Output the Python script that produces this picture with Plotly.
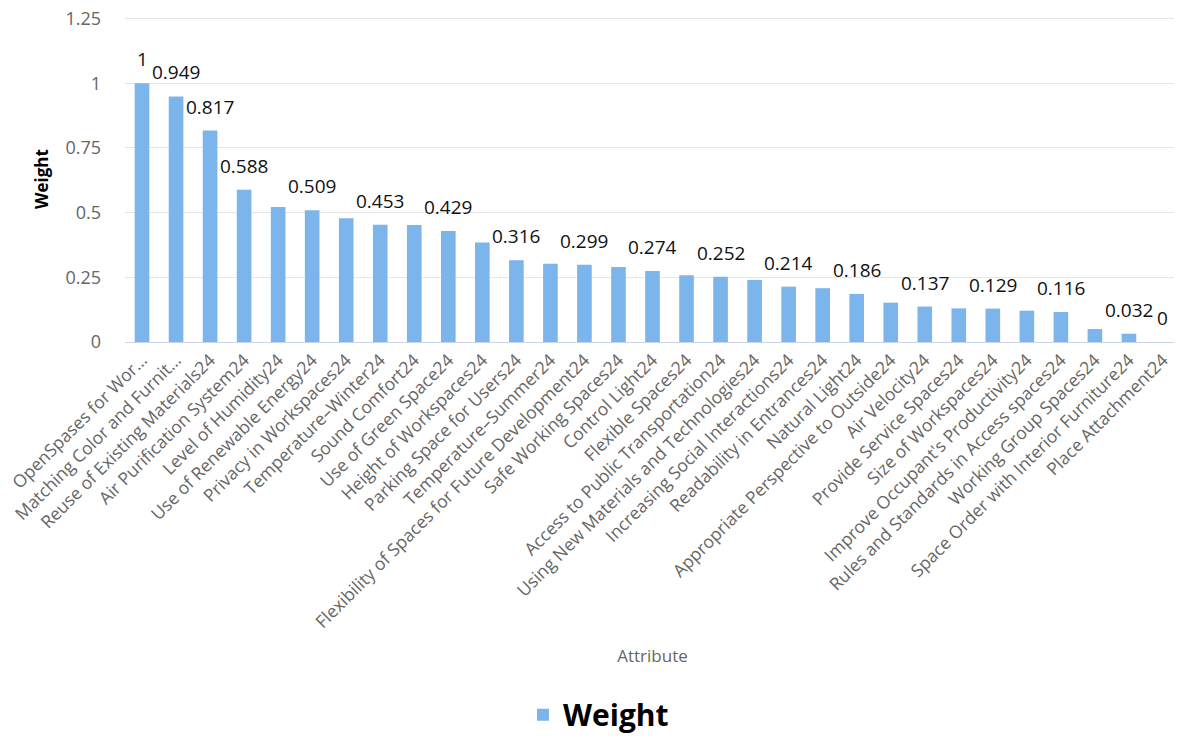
import plotly.graph_objects as go

categories = [
    "OpenSpases for Wor…",
    "Matching Color and Furnit…",
    "Reuse of Existing Materials24",
    "Air Purification System24",
    "Level of Humidity24",
    "Use of Renewable Energy24",
    "Privacy in Workspaces24",
    "Temperature–Winter24",
    "Sound Comfort24",
    "Use of Green Space24",
    "Height of Workspaces24",
    "Parking Space for Users24",
    "Temperature–Summer24",
    "Flexibility of Spaces for Future Development24",
    "Safe Working Spaces24",
    "Control Light24",
    "Flexible Spaces24",
    "Access to Public Transportation24",
    "Using New Materials and Technologies24",
    "Increasing Social Interactions24",
    "Readability in Entrances24",
    "Natural Light24",
    "Appropriate Perspective to Outside24",
    "Air Velocity24",
    "Provide Service Spaces24",
    "Size of Workspaces24",
    "Improve Occupant's Productivity24",
    "Rules and Standards in Access spaces24",
    "Working Group Spaces24",
    "Space Order with Interior Furniture24",
    "Place Attachment24",
]

weights = [
    1.0, 0.949, 0.817, 0.588, 0.522, 0.509, 0.478, 0.453, 0.452, 0.429,
    0.385, 0.316, 0.302, 0.299, 0.290, 0.274, 0.258, 0.252, 0.240, 0.214,
    0.208, 0.186, 0.152, 0.137, 0.130, 0.129, 0.121, 0.116, 0.050, 0.032,
    0.0,
]

# which data labels are visible in the reference (others hidden by overlap)
label_shown = [
    True, True, True, True, False, True, False, True, False, True,
    False, True, False, True, False, True, False, True, False, True,
    False, True, False, True, False, True, False, True, False, True,
    True,
]

y_ticks = [0, 0.25, 0.5, 0.75, 1, 1.25]
y_tick_text = ["0", "0.25", "0.5", "0.75", "1", "1.25"]

FONT = "Open Sans"
BAR_COLOR = "#7cb5ec"

fig = go.Figure()
fig.add_trace(go.Bar(
    x=categories,
    y=weights,
    name="Weight",
    marker=dict(color=BAR_COLOR, line=dict(width=0)),
    hovertemplate="%{x}<br>Weight: %{y}<extra></extra>",
))

for cat, val, show in zip(categories, weights, label_shown):
    if not show:
        continue
    fig.add_annotation(
        x=cat, y=val, xref="x", yref="y",
        text=f"{val:g}",
        showarrow=False,
        yanchor="bottom",
        yshift=9,
        font=dict(family=FONT, size=19, color="#111111"),
    )

fig.update_layout(
    width=1174,
    height=730,
    margin=dict(l=117, r=2, t=8, b=396),
    paper_bgcolor="white",
    plot_bgcolor="white",
    bargap=0.57,
    showlegend=True,
    legend=dict(
        orientation="h",
        xref="container", yref="container",
        x=0.503, y=0.032,
        xanchor="center", yanchor="middle",
        font=dict(family=FONT, size=30, color="#000000", weight="bold"),
        itemwidth=30,
    ),
    font=dict(family=FONT),
)

fig.update_xaxes(
    type="category",
    tickangle=-45,
    tickfont=dict(family=FONT, size=17.5, color="#666666"),
    showline=True,
    linecolor="#ccd6eb",
    linewidth=1,
    showgrid=False,
    ticks="",
    automargin=False,
    title=dict(text="Attribute", font=dict(family=FONT, size=17, color="#666666"), standoff=18),
)

fig.update_yaxes(
    range=[0, 1.26],
    tickvals=y_ticks,
    ticktext=y_tick_text,
    tickfont=dict(family=FONT, size=18, color="#666666"),
    ticklabeloverflow="allow",
    showgrid=True,
    gridcolor="#e6e6e6",
    gridwidth=1,
    zeroline=False,
    showline=False,
    ticks="",
    ticklabelstandoff=23,
    automargin=False,
    title=dict(text="Weight", font=dict(family=FONT, size=17, color="#000000", weight="bold"), standoff=12),
)

fig.write_html("out.html")
